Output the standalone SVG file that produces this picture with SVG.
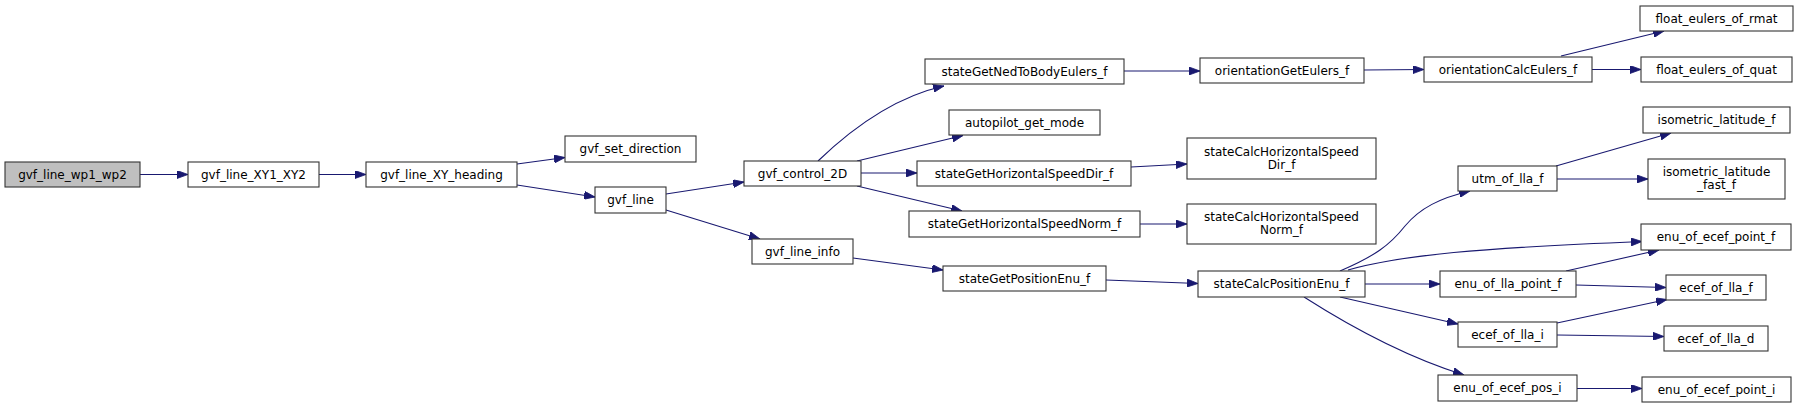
<svg xmlns="http://www.w3.org/2000/svg" width="1799" height="408" viewBox="0 0 1799 408">
<style>
.n rect{fill:#ffffff;stroke:#333333;stroke-width:1.1}
.n.root rect{fill:#bfbfbf}
.n text{font-family:"DejaVu Sans",sans-serif;font-size:12px;fill:#000000;text-anchor:middle}
.e path{fill:none;stroke:#191970;stroke-width:1.1;marker-end:url(#ah)}
</style>
<defs>
<marker id="ah" viewBox="0 0 11 8" refX="11" refY="4" markerWidth="11" markerHeight="8" markerUnits="userSpaceOnUse" orient="auto">
<path d="M0,0 L11,4 L0,8 z" fill="#191970" stroke="#191970" stroke-width="0.8"/>
</marker>
</defs>
<rect width="1799" height="408" fill="#ffffff"/>
<g id="edges" class="e">
<path d="M140,174.5 L188,174.5"/>
<path d="M319,174.5 L366,174.5"/>
<path d="M517,164 L565,157.5"/>
<path d="M517,185 L595,197"/>
<path d="M666,194 L744,182"/>
<path d="M666,210 L760,239"/>
<path d="M818,161 C845,135 890,98 944,86"/>
<path d="M857,161 L963,135.5"/>
<path d="M861,173 L917,173"/>
<path d="M857,186 L962,211"/>
<path d="M853,258 L943,270"/>
<path d="M1124,71 L1200,71"/>
<path d="M1131,167 L1187,164"/>
<path d="M1140,224 L1187,224"/>
<path d="M1106,280 L1198,283.5"/>
<path d="M1364,70 L1424,69.5"/>
<path d="M1561,56 L1664,31"/>
<path d="M1592,69.5 L1641,69.5"/>
<path d="M1340,271 C1375,256 1390,245 1405,226 C1420,208 1440,198 1470,191"/>
<path d="M1348,270 C1400,255 1480,248 1642,241.5"/>
<path d="M1365,284 L1440,284"/>
<path d="M1340,297 L1458,324"/>
<path d="M1304,297 C1340,320 1400,355 1464,375"/>
<path d="M1556,166 L1671,133"/>
<path d="M1557,179 L1648,179"/>
<path d="M1566,271 L1659,250"/>
<path d="M1576,285 L1666,287.5"/>
<path d="M1557,323 L1667,299.5"/>
<path d="M1557,335 L1664,336.5"/>
<path d="M1577,388.5 L1642,388.5"/>
</g>
<g id="gvf_line_wp1_wp2" class="n root"><rect x="5" y="162" width="135" height="25"/><text x="72.5" y="178.5">gvf_line_wp1_wp2</text></g>
<g id="gvf_line_XY1_XY2" class="n"><rect x="188" y="162" width="131" height="25"/><text x="253.5" y="178.5">gvf_line_XY1_XY2</text></g>
<g id="gvf_line_XY_heading" class="n"><rect x="366" y="162" width="151" height="25"/><text x="441.5" y="178.5">gvf_line_XY_heading</text></g>
<g id="gvf_set_direction" class="n"><rect x="565" y="136" width="131" height="26"/><text x="630.5" y="153">gvf_set_direction</text></g>
<g id="gvf_line" class="n"><rect x="595" y="187" width="71" height="26"/><text x="630.5" y="204">gvf_line</text></g>
<g id="gvf_control_2D" class="n"><rect x="744" y="161" width="117" height="25"/><text x="802.5" y="177.5">gvf_control_2D</text></g>
<g id="gvf_line_info" class="n"><rect x="752" y="239" width="101" height="25"/><text x="802.5" y="255.5">gvf_line_info</text></g>
<g id="stateGetNedToBodyEulers_f" class="n"><rect x="925" y="59" width="199" height="25"/><text x="1024.5" y="75.5">stateGetNedToBodyEulers_f</text></g>
<g id="autopilot_get_mode" class="n"><rect x="949" y="110" width="151" height="25"/><text x="1024.5" y="126.5">autopilot_get_mode</text></g>
<g id="stateGetHorizontalSpeedDir_f" class="n"><rect x="917" y="161" width="214" height="25"/><text x="1024" y="177.5">stateGetHorizontalSpeedDir_f</text></g>
<g id="stateGetHorizontalSpeedNorm_f" class="n"><rect x="909" y="211" width="231" height="26"/><text x="1024.5" y="228">stateGetHorizontalSpeedNorm_f</text></g>
<g id="stateGetPositionEnu_f" class="n"><rect x="943" y="266" width="163" height="25"/><text x="1024.5" y="282.5">stateGetPositionEnu_f</text></g>
<g id="orientationGetEulers_f" class="n"><rect x="1200" y="58" width="164" height="25"/><text x="1282" y="74.5">orientationGetEulers_f</text></g>
<g id="orientationCalcEulers_f" class="n"><rect x="1424" y="57" width="168" height="25"/><text x="1508" y="73.5">orientationCalcEulers_f</text></g>
<g id="float_eulers_of_rmat" class="n"><rect x="1640" y="6" width="153" height="25"/><text x="1716.5" y="22.5">float_eulers_of_rmat</text></g>
<g id="float_eulers_of_quat" class="n"><rect x="1641" y="57" width="151" height="25"/><text x="1716.5" y="73.5">float_eulers_of_quat</text></g>
<g id="stateCalcHorizontalSpeedDir_f" class="n"><rect x="1187" y="138" width="189" height="41"/><text x="1281.5" y="155.5">stateCalcHorizontalSpeed</text><text x="1281.5" y="169">Dir_f</text></g>
<g id="stateCalcHorizontalSpeedNorm_f" class="n"><rect x="1187" y="204" width="189" height="40"/><text x="1281.5" y="220.5">stateCalcHorizontalSpeed</text><text x="1281.5" y="234">Norm_f</text></g>
<g id="stateCalcPositionEnu_f" class="n"><rect x="1198" y="271" width="167" height="26"/><text x="1281.5" y="288">stateCalcPositionEnu_f</text></g>
<g id="utm_of_lla_f" class="n"><rect x="1458" y="166" width="99" height="25"/><text x="1507.5" y="182.5">utm_of_lla_f</text></g>
<g id="enu_of_lla_point_f" class="n"><rect x="1440" y="271" width="136" height="26"/><text x="1508" y="288">enu_of_lla_point_f</text></g>
<g id="ecef_of_lla_i" class="n"><rect x="1458" y="322" width="99" height="25"/><text x="1507.5" y="338.5">ecef_of_lla_i</text></g>
<g id="enu_of_ecef_pos_i" class="n"><rect x="1438" y="375" width="139" height="26"/><text x="1507.5" y="392">enu_of_ecef_pos_i</text></g>
<g id="isometric_latitude_f" class="n"><rect x="1643" y="107" width="147" height="26"/><text x="1716.5" y="124">isometric_latitude_f</text></g>
<g id="isometric_latitude_fast_f" class="n"><rect x="1648" y="159" width="137" height="40"/><text x="1716.5" y="175.5">isometric_latitude</text><text x="1716.5" y="189">_fast_f</text></g>
<g id="enu_of_ecef_point_f" class="n"><rect x="1641" y="224" width="150" height="26"/><text x="1716" y="241">enu_of_ecef_point_f</text></g>
<g id="ecef_of_lla_f" class="n"><rect x="1666" y="275" width="100" height="25"/><text x="1716" y="291.5">ecef_of_lla_f</text></g>
<g id="ecef_of_lla_d" class="n"><rect x="1664" y="326" width="104" height="25"/><text x="1716" y="342.5">ecef_of_lla_d</text></g>
<g id="enu_of_ecef_point_i" class="n"><rect x="1642" y="377" width="149" height="25"/><text x="1716.5" y="393.5">enu_of_ecef_point_i</text></g>
</svg>
